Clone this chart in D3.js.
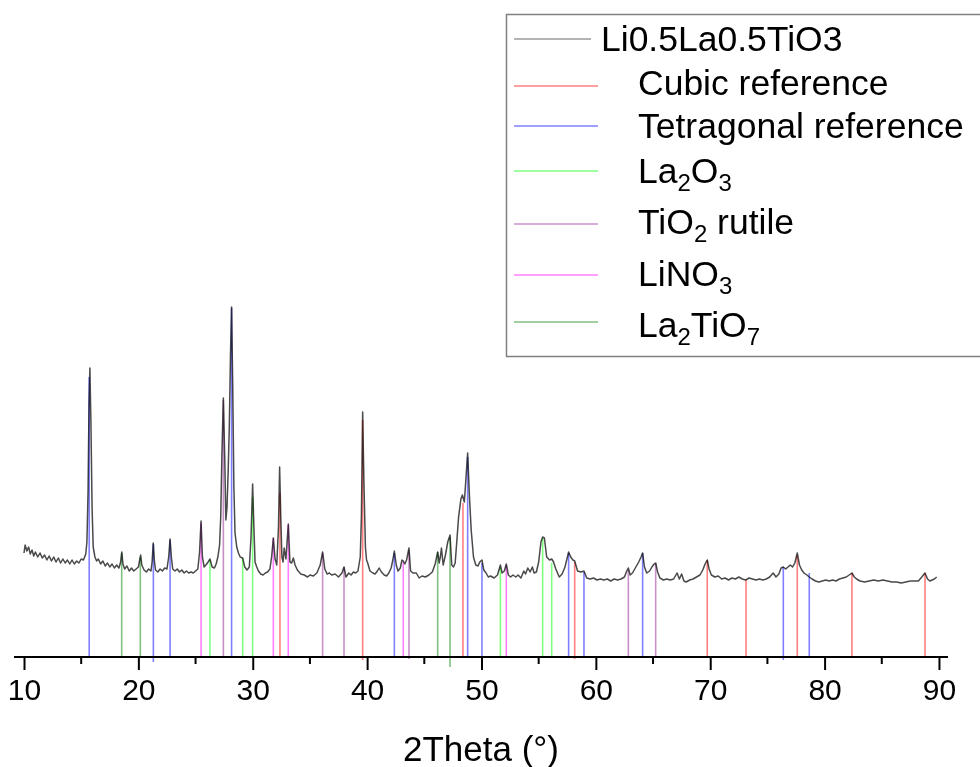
<!DOCTYPE html>
<html>
<head>
<meta charset="utf-8">
<script src="https://cdn.jsdelivr.net/npm/d3@7/dist/d3.min.js"></script>
<style>
  html, body { margin: 0; padding: 0; background: #fff; }
  svg { display: block; font-family: "Liberation Sans", Arial, sans-serif; }
</style>
</head>
<body>
<svg id="chart" width="980" height="767"></svg>
<script>
// XRD pattern of Li0.5La0.5TiO3: [2theta (deg), intensity (a.u.)]
const pattern = [
  [10.0,104],[10.1,112],[10.25,106],[10.4,110],[10.55,103],[10.7,107],[10.85,101],[11.0,105],
  [11.2,100],[11.4,104],[11.6,99],[11.8,102],[12.0,97],[12.2,101],[12.4,96],[12.6,100],
  [12.8,95],[13.0,99],[13.2,94],[13.4,98],[13.6,94],[13.8,97],[14.0,93],[14.2,97],
  [14.4,93],[14.6,96],[14.8,94],[15.0,98],[15.2,97],[15.4,103],[15.5,115],[15.6,165],
  [15.68,250],[15.76,289],[15.85,235],[15.95,150],[16.05,110],[16.2,100],[16.35,96],[16.5,98],
  [16.7,93],[16.9,96],[17.1,91],[17.3,94],[17.5,90],[17.7,93],[17.9,89],[18.1,92],
  [18.3,89],[18.45,95],[18.55,105],[18.65,93],[18.8,88],[19.0,91],[19.2,86],[19.4,89],
  [19.6,86],[19.8,88],[20.0,90],[20.1,96],[20.2,102],[20.3,92],[20.5,87],[20.7,85],
  [20.9,88],[21.1,86],[21.2,95],[21.3,114],[21.4,96],[21.5,87],[21.7,85],[21.9,88],
  [22.1,86],[22.3,89],[22.5,88],[22.65,100],[22.77,118],[22.9,98],[23.0,88],[23.2,86],
  [23.4,88],[23.6,85],[23.8,87],[24.0,84],[24.2,86],[24.4,84],[24.6,85],[24.8,84],
  [25.0,86],[25.2,88],[25.35,105],[25.48,136],[25.6,100],[25.75,90],[25.9,92],[26.1,95],
  [26.26,98],[26.45,90],[26.65,89],[26.8,93],[26.95,100],[27.1,112],[27.2,140],[27.3,200],
  [27.43,259],[27.55,200],[27.65,137],[27.75,150],[27.85,185],[27.95,230],[28.05,300],[28.15,350],
  [28.25,270],[28.35,170],[28.45,124],[28.6,110],[28.75,104],[28.9,100],[29.12,99],[29.3,90],
  [29.5,87],[29.7,90],[29.85,120],[29.99,173],[30.1,130],[30.2,95],[30.35,90],[30.5,86],
  [30.7,83],[30.9,82],[31.1,84],[31.3,85],[31.5,88],[31.65,100],[31.8,119],[31.95,98],
  [32.1,92],[32.25,130],[32.35,190],[32.45,140],[32.55,100],[32.65,95],[32.75,109],[32.9,98],
  [33.11,133],[33.25,95],[33.4,94],[33.55,99],[33.7,92],[33.9,87],[34.2,83],[34.5,82],
  [34.8,80],[35.0,82],[35.3,81],[35.6,84],[35.9,92],[36.11,105],[36.3,88],[36.5,83],
  [36.7,84],[36.9,82],[37.2,83],[37.5,80],[37.8,84],[37.98,90],[38.15,80],[38.4,84],
  [38.6,82],[38.8,85],[39.0,84],[39.2,86],[39.4,100],[39.5,140],[39.61,245],[39.72,175],
  [39.85,110],[39.95,97],[40.05,94],[40.25,86],[40.5,84],[40.7,83],[40.9,86],[41.05,89],
  [41.25,85],[41.5,82],[41.7,81],[41.9,84],[42.1,89],[42.25,97],[42.38,106],[42.55,92],
  [42.7,86],[42.9,89],[43.05,97],[43.16,96],[43.3,93],[43.45,97],[43.66,109],[43.8,86],
  [44.0,84],[44.3,84],[44.55,79],[44.8,81],[45.1,80],[45.4,82],[45.7,85],[45.95,93],
  [46.17,105],[46.3,94],[46.4,100],[46.5,109],[46.65,92],[46.85,102],[47.05,115],[47.25,122],
  [47.4,92],[47.55,90],[47.7,94],[47.85,117],[48.0,140],[48.2,158],[48.33,162],[48.5,155],
  [48.65,180],[48.79,204],[48.95,160],[49.1,127],[49.3,100],[49.5,92],[49.7,91],[49.85,95],
  [50.04,97],[50.2,87],[50.4,84],[50.6,80],[50.8,81],[51.1,79],[51.4,82],[51.65,92],
  [51.8,84],[52.0,86],[52.17,93],[52.35,82],[52.55,80],[52.75,82],[53.0,80],[53.2,82],
  [53.45,79],[53.7,86],[53.85,83],[54.05,89],[54.25,85],[54.45,90],[54.6,84],[54.8,85],
  [55.0,95],[55.2,115],[55.35,120],[55.5,119],[55.7,100],[55.95,97],[56.14,98],[56.3,95],
  [56.5,88],[56.8,80],[57.05,83],[57.3,90],[57.62,105],[57.8,100],[58.0,97],[58.15,96],
  [58.4,86],[58.7,85],[58.96,86],[59.2,79],[59.5,78],[59.8,79],[60.1,77],[60.4,78],
  [60.7,77],[61.0,78],[61.3,76],[61.6,78],[61.9,77],[62.2,78],[62.5,80],[62.7,86],
  [62.84,89],[63.0,82],[63.2,84],[63.5,90],[63.75,95],[63.95,100],[64.09,104],[64.25,90],
  [64.45,84],[64.7,86],[64.9,90],[65.1,93],[65.23,94],[65.4,85],[65.6,79],[65.9,77],
  [66.2,78],[66.5,77],[66.8,78],[67.1,84],[67.3,78],[67.5,83],[67.7,76],[67.9,75],
  [68.2,77],[68.5,78],[68.8,80],[69.1,82],[69.35,87],[69.55,93],[69.74,97],[69.9,88],
  [70.1,82],[70.4,80],[70.7,81],[71.0,78],[71.3,79],[71.6,77],[71.9,79],[72.2,78],
  [72.5,80],[72.8,78],[73.1,77],[73.4,79],[73.7,78],[74.0,77],[74.3,78],[74.6,77],
  [74.9,78],[75.2,80],[75.5,84],[75.75,80],[76.0,83],[76.2,89],[76.39,90],[76.6,88],
  [76.8,90],[77.0,92],[77.2,90],[77.4,94],[77.61,104],[77.8,92],[78.0,87],[78.2,84],
  [78.45,82],[78.66,80],[78.9,78],[79.2,76],[79.5,75],[79.8,76],[80.1,77],[80.4,76],
  [80.7,77],[81.0,76],[81.3,78],[81.6,79],[81.9,80],[82.15,82],[82.39,84],[82.6,80],
  [82.8,78],[83.1,76],[83.5,75],[83.9,76],[84.3,77],[84.7,76],[85.1,77],[85.5,76],
  [85.9,75],[86.3,75],[86.7,74],[87.1,75],[87.5,76],[87.9,76],[88.2,76],[88.5,80],
  [88.78,84],[89.0,78],[89.2,76],[89.4,77],[89.6,78],[89.8,80]
];

// Reference reflections: [2theta, intensity top, intensity bottom (default 0)]
const cubicRef = [
  [32.38,164],[39.61,237,-3],[48.38,154],[58.15,95,-2],[69.74,97],[73.13,77],
  [77.61,102],[82.39,84],[88.78,84]
];
const tetragonalRef = [
  [15.70,280],[21.31,113,-5],[22.77,117],[28.15,349],[42.38,104],[48.79,200],
  [50.04,94],[57.62,104],[58.96,85],[64.09,104],[76.39,90,-3],[78.66,84,-1]
];
const la2o3Ref = [[26.26,97],[29.12,99],[29.99,160],[51.65,90],[55.35,119],[56.14,94]];
const tio2RutileRef = [[27.43,257],[36.11,104],[37.98,90],[43.66,107,-2],[62.84,87],[65.23,94]];
const lino3Ref = [[25.48,134],[31.80,119],[33.11,132],[43.16,95],[52.17,92]];
const la2tio7Ref = [[18.54,104],[20.17,100],[46.17,105],[47.25,120,-10]];

// Legend labels ("_n" marks a subscript digit) and colours
const seriesLabels = ["Li0.5La0.5TiO3", "Cubic reference", "Tetragonal reference",
  "La_2O_3", "TiO_2 rutile", "LiNO_3", "La_2TiO_7"];
const seriesColors = ["#9a9a9a", "#ff8080", "#8080ff", "#80ff80", "#c890c8", "#ff80ff", "#80c080"];
const referenceSets = [cubicRef, tetragonalRef, la2o3Ref, tio2RutileRef, lino3Ref, la2tio7Ref];

const xTicks = [10, 20, 30, 40, 50, 60, 70, 80, 90];
const xMinorTicks = [15, 25, 35, 45, 55, 65, 75, 85];
const xTitle = "2Theta (\u00B0)";

// ---- layout ----
const svg = d3.select("#chart");
const axisY = 657;
const x = d3.scaleLinear().domain([9.125, 90.79]).range([14, 948]);
const y = d3.scaleLinear().domain([0, 350]).range([axisY, axisY - 350]);

svg.append("rect").attr("width", 980).attr("height", 767).attr("fill", "#fff");

const plot = svg.append("g");

// measured pattern
const line = d3.line().x(d => x(d[0])).y(d => y(d[1]));
plot.append("path")
  .datum(pattern)
  .attr("d", line)
  .attr("fill", "none")
  .attr("stroke", "#4a4a4a")
  .attr("stroke-width", 1.5)
  .attr("stroke-linejoin", "round");

// reference sticks
referenceSets.forEach((set, i) => {
  plot.append("g")
    .style("mix-blend-mode", "multiply")
    .selectAll("line")
    .data(set)
    .join("line")
    .attr("x1", d => x(d[0])).attr("x2", d => x(d[0]))
    .attr("y1", d => y(d[2] || 0)).attr("y2", d => y(d[1]))
    .attr("stroke", seriesColors[i + 1])
    .attr("stroke-width", 1.6);
});

// bottom axis
const xAxis = d3.axisBottom(x).tickValues(xTicks).tickSize(13).tickPadding(9)
  .tickFormat(d3.format("d"));
const axisG = svg.append("g").attr("transform", `translate(0,${axisY})`).call(xAxis);
axisG.select(".domain").attr("stroke", "#000").attr("stroke-width", 2)
  .attr("d", `M${x.range()[0]},0H${x.range()[1]}`);
axisG.selectAll(".tick line").attr("stroke", "#000").attr("stroke-width", 2);
axisG.selectAll(".tick text")
  .attr("font-family", "Liberation Sans, Arial, sans-serif")
  .attr("font-size", 30).attr("fill", "#000");
axisG.selectAll(".minor")
  .data(xMinorTicks)
  .join("line")
  .attr("class", "minor")
  .attr("x1", d => x(d)).attr("x2", d => x(d))
  .attr("y1", 0).attr("y2", 7)
  .attr("stroke", "#000").attr("stroke-width", 2);

svg.append("text")
  .attr("x", (x.range()[0] + x.range()[1]) / 2)
  .attr("y", 761)
  .attr("text-anchor", "middle")
  .attr("font-size", 35)
  .text(xTitle);

// legend
const legend = svg.append("g");
legend.append("rect")
  .attr("x", 506.5).attr("y", 14.5).attr("width", 475).attr("height", 342)
  .attr("fill", "#fff").attr("stroke", "#808080").attr("stroke-width", 1.5);

const legendLineY = [39, 86, 126, 171, 224, 275, 322];
const legendTextY = [51, 95, 138, 183, 234, 286, 337];
seriesLabels.forEach((label, i) => {
  const ly = legendLineY[i];
  legend.append("line")
    .attr("x1", 514).attr("x2", i === 0 ? 591 : 598)
    .attr("y1", ly).attr("y2", ly)
    .attr("stroke", seriesColors[i]).attr("stroke-width", 1.5);
  const t = legend.append("text")
    .attr("x", i === 0 ? 601 : 638)
    .attr("y", legendTextY[i])
    .attr("font-size", 35.5)
    .attr("fill", "#000");
  // split label into normal and subscript parts
  const parts = label.split(/(_\d)/).filter(s => s.length);
  let lowered = false;
  parts.forEach(p => {
    if (p[0] === "_") {
      t.append("tspan").attr("font-size", 24).attr("dy", 8).text(p.slice(1));
      lowered = true;
    } else {
      t.append("tspan").attr("dy", lowered ? -8 : 0).text(p);
      lowered = false;
    }
  });
});
</script>
</body>
</html>
